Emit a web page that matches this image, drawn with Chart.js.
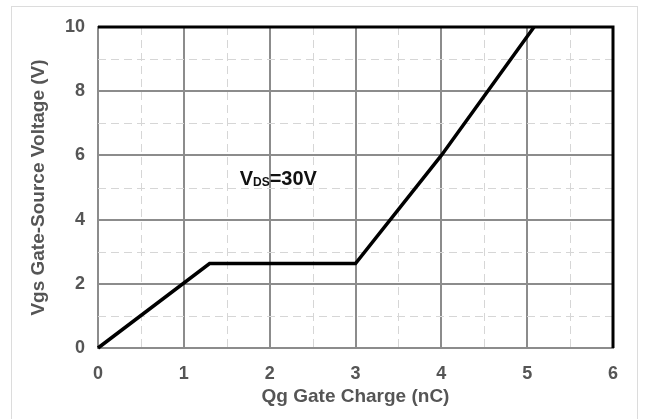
<!DOCTYPE html>
<html>
<head>
<meta charset="utf-8">
<title>Gate Charge</title>
<script src="https://cdn.jsdelivr.net/npm/chart.js@4/dist/chart.umd.min.js"></script>
<style>
    html, body { margin: 0; padding: 0; background: #fff; }
    #wrap { width: 645px; height: 419px; position: relative; }
</style>
</head>
<body>
<div id="wrap"><canvas id="gateChart"></canvas></div>
<script>
// Gate charge curve
const qgCharge = [0, 1.3, 3.0, 4.0, 5.08];
const vgsVoltage = [0, 2.63, 2.63, 6.0, 10];

// Axis ticks (major solid grid) and minor dashed grid positions
const xTicks = [0, 1, 2, 3, 4, 5, 6];
const yTicks = [0, 2, 4, 6, 8, 10];
const xMinor = [0.5, 1.5, 2.5, 3.5, 4.5, 5.5];
const yMinor = [1, 3, 5, 7, 9];

// Annotation text and where it sits (data units)
const noteMain = 'V';
const noteSub = 'DS';
const noteRest = '=30V';
const notePos = [1.65, 5.08];

(function() {
    'use strict';

    const FONT = '"Liberation Sans", Arial, sans-serif';
    const TEXT_GRAY = '#555555';

    // Light frame around the whole picture + minor dashed grid + plot borders
    const framePlugin = {
        id: 'frame',
        beforeDraw(chart) {
            const ctx = chart.ctx;
            ctx.save();
            ctx.fillStyle = '#fff';
            ctx.fillRect(0, 0, chart.width, chart.height);
            ctx.strokeStyle = '#dcdcdc';
            ctx.lineWidth = 1;
            ctx.strokeRect(11.5, 6.5, 626, 420);
            ctx.restore();
        },
        beforeDatasetsDraw(chart) {
            const ctx = chart.ctx;
            const a = chart.chartArea;
            const x = chart.scales.x;
            const y = chart.scales.y;
            ctx.save();
            ctx.strokeStyle = '#d6d6d6';
            ctx.lineWidth = 1;
            ctx.setLineDash([8, 5]);
            xMinor.forEach(function(v) {
                const px = Math.round(x.getPixelForValue(v)) + 0.5;
                ctx.beginPath();
                ctx.moveTo(px, a.top);
                ctx.lineTo(px, a.bottom);
                ctx.stroke();
            });
            yMinor.forEach(function(v) {
                const py = Math.round(y.getPixelForValue(v)) + 0.5;
                ctx.beginPath();
                ctx.moveTo(a.left, py);
                ctx.lineTo(a.right, py);
                ctx.stroke();
            });
            ctx.restore();
        },
        afterDatasetsDraw(chart) {
            const ctx = chart.ctx;
            const a = chart.chartArea;
            const x = chart.scales.x;
            const y = chart.scales.y;

            // top and right edges are black in the original
            ctx.save();
            ctx.strokeStyle = '#000';
            ctx.lineWidth = 3;
            ctx.beginPath();
            ctx.moveTo(a.left, a.top);
            ctx.lineTo(a.right, a.top);
            ctx.lineTo(a.right, a.bottom);
            ctx.stroke();

            // V_DS=30V label
            let px = x.getPixelForValue(notePos[0]);
            const py = y.getPixelForValue(notePos[1]);
            ctx.fillStyle = '#111';
            ctx.textBaseline = 'alphabetic';
            ctx.textAlign = 'left';
            ctx.font = 'bold 20px ' + FONT;
            ctx.fillText(noteMain, px, py);
            px += ctx.measureText(noteMain).width;
            ctx.font = 'bold 12px ' + FONT;
            ctx.fillText(noteSub, px, py + 1);
            px += ctx.measureText(noteSub).width;
            ctx.font = 'bold 20px ' + FONT;
            ctx.fillText(noteRest, px, py);
            ctx.restore();
        }
    };

    function initGateChart() {
        const canvas = document.getElementById('gateChart');
        if (!canvas || typeof Chart === 'undefined') {
            console.error('Gate chart: canvas or Chart.js missing');
            return;
        }

        const points = qgCharge.map(function(q, i) {
            return { x: q, y: vgsVoltage[i] };
        });

        const config = {
            type: 'scatter',
            data: {
                datasets: [{
                    data: points,
                    showLine: true,
                    borderColor: '#000',
                    borderWidth: 3.5,
                    pointRadius: 0,
                    fill: false,
                    tension: 0,
                    clip: false
                }]
            },
            options: {
                responsive: true,
                maintainAspectRatio: false,
                animation: false,
                layout: {
                    padding: { left: 0, right: 32, top: 27, bottom: 0 }
                },
                plugins: {
                    legend: { display: false },
                    tooltip: { enabled: false }
                },
                scales: {
                    x: {
                        type: 'linear',
                        min: 0,
                        max: 6,
                        afterBuildTicks: function(scale) {
                            scale.ticks = xTicks.map(function(v) { return { value: v }; });
                        },
                        afterFit: function(scale) { scale.height = 71; },
                        grid: {
                            color: '#8c8c8c',
                            lineWidth: 2,
                            drawTicks: false
                        },
                        border: { color: '#8c8c8c', width: 2 },
                        ticks: {
                            color: TEXT_GRAY,
                            padding: 15,
                            font: { family: FONT, size: 18, weight: 'bold' }
                        },
                        title: {
                            display: true,
                            text: 'Qg Gate Charge (nC)',
                            color: TEXT_GRAY,
                            padding: { top: 0, bottom: 11 },
                            font: { family: FONT, size: 19, weight: 'bold' }
                        }
                    },
                    y: {
                        type: 'linear',
                        min: 0,
                        max: 10,
                        afterBuildTicks: function(scale) {
                            scale.ticks = yTicks.map(function(v) { return { value: v }; });
                        },
                        afterFit: function(scale) { scale.width = 98; },
                        grid: {
                            color: '#8c8c8c',
                            lineWidth: 2,
                            drawTicks: false
                        },
                        border: { color: '#8c8c8c', width: 2 },
                        ticks: {
                            color: TEXT_GRAY,
                            padding: 13,
                            font: { family: FONT, size: 18, weight: 'bold' }
                        },
                        title: {
                            display: true,
                            text: 'Vgs Gate-Source Voltage (V)',
                            color: TEXT_GRAY,
                            padding: { top: 27, bottom: 0 },
                            font: { family: FONT, size: 19, weight: 'bold' }
                        }
                    }
                }
            },
            plugins: [framePlugin]
        };

        new Chart(canvas, config);
    }

    if (document.readyState === 'loading') {
        document.addEventListener('DOMContentLoaded', initGateChart);
    } else {
        initGateChart();
    }
})();
</script>
</body>
</html>
